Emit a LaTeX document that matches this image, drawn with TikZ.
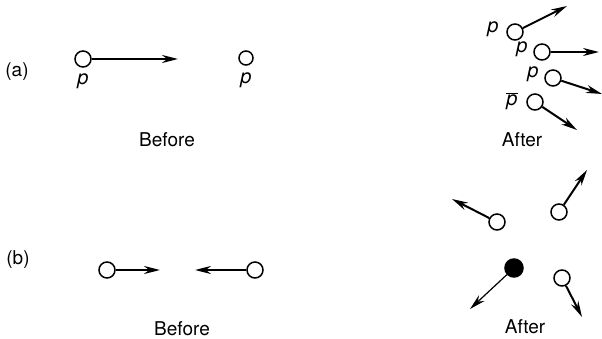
\documentclass[tikz,border=0pt]{standalone}
\usepackage{fontspec}
\setmainfont{TeX Gyre Heros}
\usetikzlibrary{arrows.meta,positioning}

\begin{document}
\begin{tikzpicture}[x=1pt, y=-1pt,
    ball/.style={draw, circle, minimum size=16pt, inner sep=0pt, line width=1.5pt},
    darkball/.style={ball, fill=black, minimum size=18pt},
    arr/.style={-{Stealth[length=16pt, width=8pt]}, line width=2pt},
    lbl/.style={font=\fontsize{19}{22}\selectfont},
    sym/.style={font=\fontsize{20}{22}\selectfont\itshape, inner sep=1pt}
]
\useasboundingbox (0,0) rectangle (602,339);

% (a) before
\node[lbl] (tagA) at (17,72) {(a)};
\node[ball] (pa1) at (83,59) {};
\node[ball, minimum size=14pt] (pa2) at (246,58) {};
\node[sym] (la1) at (83,81) {p};
\node[sym] (la2) at (246,80) {p};
\coordinate (ea1) at (178,59);
\draw[arr] (pa1) -- (ea1);
\node[lbl] (befA) at (167,140) {Before};

% (a) after
\node[ball] (qa1) at (515,32) {};
\node[ball] (qa2) at (542,52) {};
\node[ball] (qa3) at (553,78) {};
\node[ball] (qa4) at (535,102) {};
\node[sym] (ma1) at (493,29) {p};
\node[sym] (ma2) at (522,49) {p};
\node[sym] (ma3) at (533,74) {p};
\node[sym] (ma4) at (512,101) {$\overline{\mbox{\itshape p}}$};
\coordinate (fa1) at (567,6);
\coordinate (fa2) at (599,52);
\coordinate (fa3) at (602,94);
\coordinate (fa4) at (577,130);
\draw[arr] (qa1) -- (fa1);
\draw[arr] (qa2) -- (fa2);
\draw[arr] (qa3) -- (fa3);
\draw[arr] (qa4) -- (fa4);
\node[lbl] (aftA) at (522,140) {After};

% (b) before
\node[lbl] (tagB) at (18,260) {(b)};
\node[ball] (pb1) at (107,270) {};
\node[ball] (pb2) at (255,270) {};
\coordinate (eb1) at (160,270);
\coordinate (eb2) at (195,270);
\draw[arr] (pb1) -- (eb1);
\draw[arr] (pb2) -- (eb2);
\node[lbl] (befB) at (182,329) {Before};

% (b) after
\node[ball] (qb1) at (497,222) {};
\node[ball] (qb2) at (559,212) {};
\node[darkball] (qb3) at (514,268) {};
\node[ball] (qb4) at (562,278) {};
\coordinate (fb1) at (452,199);
\coordinate (fb2) at (587,170);
\coordinate (fb3) at (470,309);
\coordinate (fb4) at (582,317);
\draw[arr] (qb1) -- (fb1);
\draw[arr] (qb2) -- (fb2);
\draw[arr, line width=1.2pt] (qb3) -- (fb3);
\draw[arr] (qb4) -- (fb4);
\node[lbl] (aftB) at (525,327) {After};
\end{tikzpicture}
\end{document}
